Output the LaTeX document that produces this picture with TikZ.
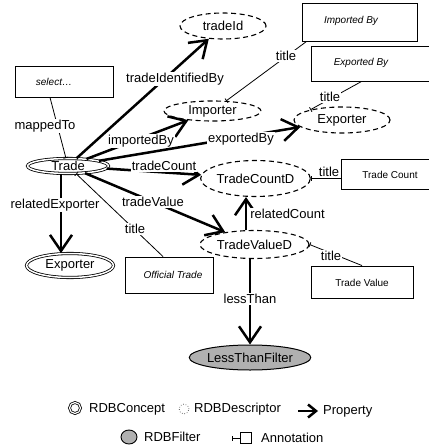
\documentclass[tikz,border=0pt]{standalone}
\usepackage{fontspec}
\setmainfont{Liberation Sans}
\usetikzlibrary{arrows.meta,shapes.geometric,calc}
\definecolor{filtgray}{HTML}{B0B0B0}
\begin{document}
\begin{tikzpicture}[x=1pt,y=-1pt,
  font=\fontsize{13}{15}\selectfont,
  concept/.style={ellipse, draw, double, double distance=1.5pt, line width=0.8pt, inner sep=0pt},
  desc/.style={ellipse, draw, dash pattern=on 5pt off 3.5pt, line width=1.1pt, inner sep=0pt},
  filt/.style={ellipse, draw, fill=filtgray, line width=1pt, inner sep=0pt},
  annbox/.style={rectangle, draw, line width=0.9pt, inner sep=0pt},
  anntext/.style={font=\fontsize{10}{12}\selectfont\itshape, inner sep=0pt},
  annplain/.style={font=\fontsize{10}{12}\selectfont, inner sep=0pt},
  prop/.style={line width=2.5pt, -{Straight Barb[length=16pt,width=22pt,line width=2.5pt]}},
  ann/.style={line width=0.8pt, {Bar[width=5pt,line width=0.8pt]}-},
  lbl/.style={fill=white, inner sep=1pt},
  lgtext/.style={anchor=west, inner sep=0pt}]
\useasboundingbox[fill=white] (0,0) rectangle (428,446);

% concept / descriptor / filter nodes
\node[desc, minimum width=86pt, minimum height=26pt] (tradeId) at (223,26) {tradeId};
\node[desc, minimum width=97pt, minimum height=20pt] (Importer) at (212.5,111) {Importer};
\node[desc, minimum width=96pt, minimum height=26pt] (Exporter) at (342,120) {Exporter};
\node[concept, minimum width=81pt, minimum height=15pt] (Trade) at (68,166) {Trade};
\node[concept, minimum width=87pt, minimum height=24pt] (Exp2) at (70,265.5) {Exporter};
\node[desc, minimum width=107pt, minimum height=36pt] (TCD) at (255.5,178.5) {TradeCountD};
\node[desc, minimum width=109pt, minimum height=28pt] (TVD) at (254.5,244.5) {TradeValueD};
\node[filt, minimum width=104pt, minimum height=25pt] (LTF) at (250,357.5) {LessThanFilter};

% annotation boxes
\node[annbox, minimum width=115pt, minimum height=38pt] (ib) at (359.5,22) {};
\node[anntext] (ibt) at (351,21) {Imported By};
\node[annbox, minimum width=118.5pt, minimum height=35pt] (eb) at (370.25,63.5) {};
\node[anntext] (ebt) at (361,63) {Exported By};
\node[annbox, minimum width=98pt, minimum height=31pt] (sel) at (64,81.5) {};
\node[anntext] (selt) at (54,82) {select\ldots};
\node[annbox, minimum width=88.5pt, minimum height=30pt] (tc) at (385.25,174) {};
\node[annplain] (tct) at (390,175) {Trade Count};
\node[annbox, minimum width=102pt, minimum height=32pt] (tv) at (362,282) {};
\node[annplain] (tvt) at (362,283) {Trade Value};
\node[annbox, minimum width=88pt, minimum height=36pt] (ot) at (169,275) {};
\node[anntext] (ott) at (173,275) {Official Trade};

% annotation connectors
\draw[ann] (Trade) -- ([xshift=-14pt]sel.south) node[lbl] at (45,126) {mappedTo};
\draw[ann] (Importer) -- ([xshift=5pt]ib.south west) node[lbl] at (286,56) {title};
\draw[ann] (Exporter.162) -- ([xshift=51pt]eb.south west) node[lbl] at (330,97) {title};
\draw[ann] (TCD.east) -- (TCD.east -| tc.west) node[inner sep=1pt] at (329,172) {title};
\draw[ann] (TVD.east) -- (tv.north) node[lbl] at (331,256) {title};
\draw[ann] (Trade) -- ([xshift=-6pt]ot.north) node[lbl] at (135,229) {title};

% property connectors
\draw[prop] (Trade) -- (tradeId) node[lbl] at (175,79) {tradeIdentifiedBy};
\draw[prop] (Trade) -- (Importer) node[lbl] at (141,141) {importedBy};
\draw[prop] (Trade) -- (Exporter) node[lbl] at (241,139) {exportedBy};
\draw[prop] (Trade) -- (TCD) node[lbl] at (164,166) {tradeCount};
\draw[prop] (Trade) -- (TVD) node[lbl] at (153,202) {tradeValue};
\draw[prop] ([xshift=-7pt]Trade.south) -- ([xshift=-9pt]Exp2.north) node[lbl] at (55,205) {relatedExporter};
\draw[prop] (TVD.north -| 246,0) -- (TCD.south -| 246,0) node[lbl, anchor=west] at (248,214) {relatedCount};
\draw[prop] (TVD.south -| 250,0) -- (LTF.north) node[lbl] at (250,299) {lessThan};

% legend
\node[circle, draw, double, double distance=1.2pt, line width=0.8pt, minimum size=11pt, inner sep=0pt] (lgc) at (75,408) {};
\node[lgtext] (lgct) at (89,409) {RDBConcept};
\node[circle, draw, dotted, line width=0.6pt, minimum size=10pt, inner sep=0pt] (lgd) at (184,409) {};
\node[lgtext] (lgdt) at (194,409) {RDBDescriptor};
\coordinate (lgp0) at (298,411);
\coordinate (lgp1) at (318,411);
\draw[line width=2.5pt, -{Straight Barb[length=8pt,width=13pt,line width=2.5pt]}] (lgp0) -- (lgp1);
\node[lgtext] (lgpt) at (323,411) {Property};
\node[ellipse, draw, fill=filtgray, line width=0.9pt, minimum width=16pt, minimum height=14pt, inner sep=0pt] (lgf) at (129,437) {};
\node[lgtext] (lgft) at (144,437) {RDBFilter};
\node[annbox, minimum size=11pt] (lga) at (245.5,438) {};
\coordinate (lga0) at (232,438);
\draw[ann] (lga0) -- (lga.west);
\node[lgtext] (lgat) at (261,438) {Annotation};
\end{tikzpicture}
\end{document}
